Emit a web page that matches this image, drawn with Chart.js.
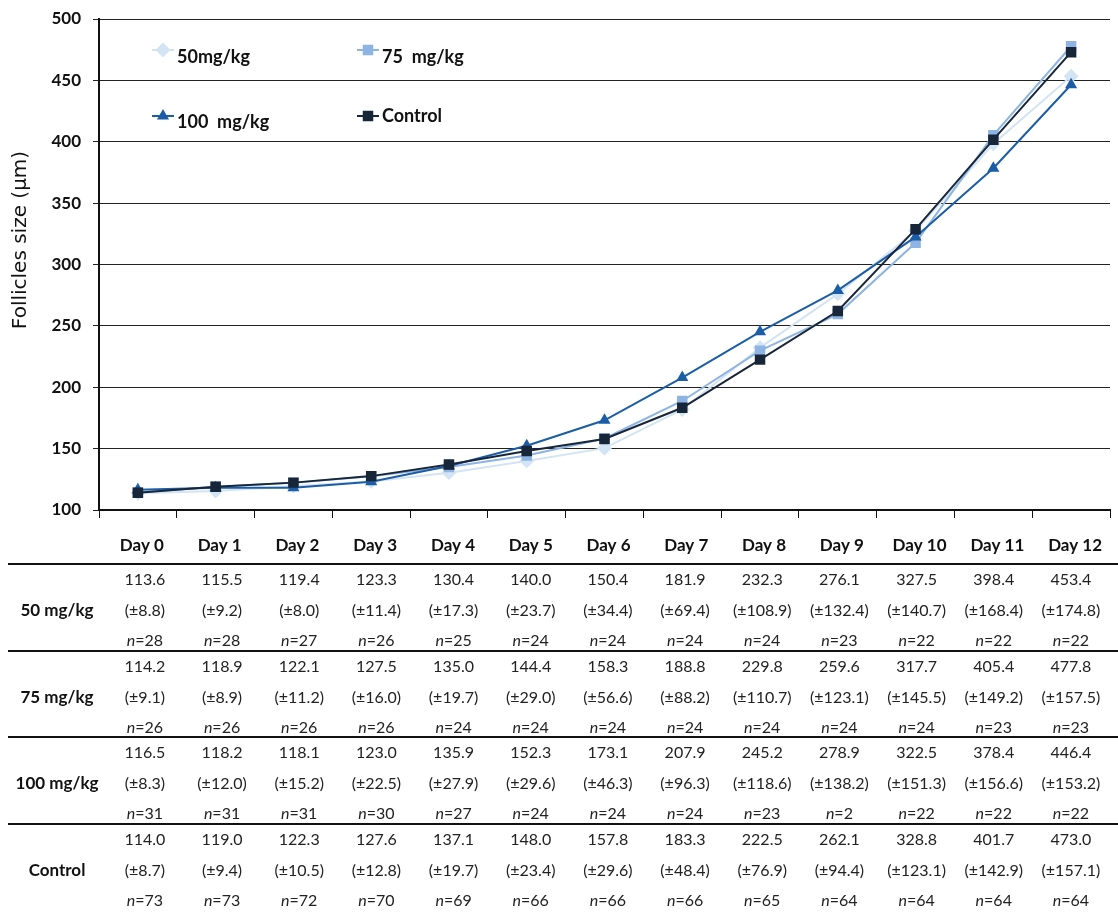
<!DOCTYPE html>
<html lang="en">
<head>
  <meta charset="UTF-8" />
  <title>Follicles size</title>
  <script src="https://cdn.jsdelivr.net/npm/chart.js"></script>
  <style>
    html, body { margin: 0; padding: 0; background: #fff; }
    #wrap { width: 1118px; height: 913px; position: relative; }
  </style>
</head>
<body>
  <div id="wrap"><canvas id="chart"></canvas></div>
  <script>
    const days = ['Day 0', 'Day 1', 'Day 2', 'Day 3', 'Day 4', 'Day 5', 'Day 6',
                  'Day 7', 'Day 8', 'Day 9', 'Day 10', 'Day 11', 'Day 12'];
    const yTicks = [100, 150, 200, 250, 300, 350, 400, 450, 500];
    const yTitle = 'Follicles size (\u00b5m)';

    const groupNames = ['50 mg/kg', '75 mg/kg', '100 mg/kg', 'Control'];
    const legendNames = ['50mg/kg', '75  mg/kg', '100  mg/kg', 'Control'];

    const mean50 = [113.6, 115.5, 119.4, 123.3, 130.4, 140.0, 150.4, 181.9, 232.3, 276.1, 327.5, 398.4, 453.4];
    const sd50 = ['8.8', '9.2', '8.0', '11.4', '17.3', '23.7', '34.4', '69.4', '108.9', '132.4', '140.7', '168.4', '174.8'];
    const n50 = [28, 28, 27, 26, 25, 24, 24, 24, 24, 23, 22, 22, 22];

    const mean75 = [114.2, 118.9, 122.1, 127.5, 135.0, 144.4, 158.3, 188.8, 229.8, 259.6, 317.7, 405.4, 477.8];
    const sd75 = ['9.1', '8.9', '11.2', '16.0', '19.7', '29.0', '56.6', '88.2', '110.7', '123.1', '145.5', '149.2', '157.5'];
    const n75 = [26, 26, 26, 26, 24, 24, 24, 24, 24, 24, 24, 23, 23];

    const mean100 = [116.5, 118.2, 118.1, 123.0, 135.9, 152.3, 173.1, 207.9, 245.2, 278.9, 322.5, 378.4, 446.4];
    const sd100 = ['8.3', '12.0', '15.2', '22.5', '27.9', '29.6', '46.3', '96.3', '118.6', '138.2', '151.3', '156.6', '153.2'];
    const n100 = [31, 31, 31, 30, 27, 24, 24, 24, 23, 2, 22, 22, 22];

    const meanCtrl = [114.0, 119.0, 122.3, 127.6, 137.1, 148.0, 157.8, 183.3, 222.5, 262.1, 328.8, 401.7, 473.0];
    const sdCtrl = ['8.7', '9.4', '10.5', '12.8', '19.7', '23.4', '29.6', '48.4', '76.9', '94.4', '123.1', '142.9', '157.1'];
    const nCtrl = [73, 73, 72, 70, 69, 66, 66, 66, 65, 64, 64, 64, 64];

    const means = [mean50, mean75, mean100, meanCtrl];
    const sds = [sd50, sd75, sd100, sdCtrl];
    const ns = [n50, n75, n100, nCtrl];

    const colors = ['#d3e4f4', '#8db4e2', '#1b5da6', '#18263a'];
    const markers = ['rectRot', 'rect', 'triangle', 'rect'];
    const radii = [6, 6, 5, 6];
    const drawOrder = [4, 3, 2, 1];

    // legend placed inside the plot, 2 x 2
    const legendSpots = [[152, 50, 57], [357, 50, 57], [152, 116, 122], [357, 116, 116]];

    const insideLegend = {
      id: 'insideLegend',
      afterDatasetsDraw(chart) {
        const ctx = chart.ctx;
        ctx.save();
        legendSpots.forEach((p, i) => {
          const [x, y, ty] = p;
          ctx.strokeStyle = colors[i];
          ctx.lineWidth = 2;
          ctx.beginPath();
          ctx.moveTo(x, y);
          ctx.lineTo(x + 22, y);
          ctx.stroke();
          ctx.fillStyle = colors[i];
          Chart.helpers.drawPoint(ctx, { pointStyle: markers[i], radius: radii[i], borderWidth: 1 }, x + 11, y);
          ctx.fillStyle = '#111';
          ctx.font = 'bold 18px Lato';
          ctx.textBaseline = 'middle';
          ctx.textAlign = 'left';
          ctx.fillText(legendNames[i], x + 25, ty);
        });
        // y axis title, sits a little above the middle as in the source
        ctx.translate(21, 240);
        ctx.rotate(-Math.PI / 2);
        ctx.font = '20px "DejaVu Sans"';
        ctx.textAlign = 'center';
        ctx.fillText(yTitle, 0, 0);
        ctx.restore();
      }
    };

    const dataTable = {
      id: 'dataTable',
      afterDraw(chart) {
        const ctx = chart.ctx;
        const xs = chart.scales.x;
        const ruleY = [564, 651, 737, 824];
        ctx.save();
        ctx.strokeStyle = '#111';
        ctx.lineWidth = 2;
        ruleY.forEach(y => {
          ctx.beginPath();
          ctx.moveTo(8, y);
          ctx.lineTo(1118, y);
          ctx.stroke();
        });
        ctx.textBaseline = 'middle';
        ruleY.forEach((y0, g) => {
          ctx.fillStyle = '#111';
          ctx.font = 'bold 17px Lato';
          ctx.textAlign = 'center';
          ctx.fillText(groupNames[g], 57, y0 + 47);
          days.forEach((d, i) => {
            // table columns run slightly narrower than the plot categories
            const cx = xs.getPixelForValue(i) + 7 - i * 0.6;
            ctx.fillStyle = '#222';
            ctx.font = '16px Lato';
            ctx.textAlign = 'center';
            ctx.fillText(means[g][i].toFixed(1), cx, y0 + 16);
            ctx.fillText('(\u00b1' + sds[g][i] + ')', cx, y0 + 47);
            const rest = '=' + ns[g][i];
            ctx.font = 'italic 16px Lato';
            const wn = ctx.measureText('n').width;
            ctx.font = '16px Lato';
            const wr = ctx.measureText(rest).width;
            const left = cx - (wn + wr) / 2;
            ctx.textAlign = 'left';
            ctx.font = 'italic 16px Lato';
            ctx.fillText('n', left, y0 + 77);
            ctx.font = '16px Lato';
            ctx.fillText(rest, left + wn, y0 + 77);
          });
        });
        ctx.restore();
      }
    };

    const datasets = means.map((m, i) => ({
      label: legendNames[i],
      data: m,
      borderColor: colors[i],
      backgroundColor: colors[i],
      pointBackgroundColor: colors[i],
      pointBorderColor: colors[i],
      pointStyle: markers[i],
      pointRadius: radii[i],
      borderWidth: 2,
      tension: 0,
      order: drawOrder[i]
    }));

    new Chart(document.getElementById('chart'), {
      type: 'line',
      data: { labels: days, datasets: datasets },
      options: {
        responsive: true,
        maintainAspectRatio: false,
        animation: false,
        layout: { padding: { top: 19, right: 0, left: 0, bottom: 0 } },
        plugins: {
          legend: { display: false },
          tooltip: { enabled: false }
        },
        scales: {
          x: {
            offset: true,
            afterFit: s => { s.height = 403; },
            grid: { drawOnChartArea: false, drawTicks: true, tickLength: 8, color: '#111', offset: true },
            border: { color: '#111', width: 2 },
            ticks: { color: '#111', padding: 17, labelOffset: 4, font: { family: 'Lato', size: 17, weight: 'bold' }, maxRotation: 0 }
          },
          y: {
            min: 100,
            max: 500,
            afterFit: s => { s.width = 99; s.paddingTop = 0; s.paddingBottom = 0; },
            afterBuildTicks: s => { s.ticks = yTicks.map(v => ({ value: v })); },
            grid: { color: '#222', lineWidth: 1, tickLength: 6 },
            border: { color: '#111', width: 2 },
            ticks: { color: '#111', padding: 12, font: { family: 'Lato', size: 17, weight: 'bold' } }
          }
        }
      },
      plugins: [insideLegend, dataTable]
    });
  </script>
</body>
</html>
